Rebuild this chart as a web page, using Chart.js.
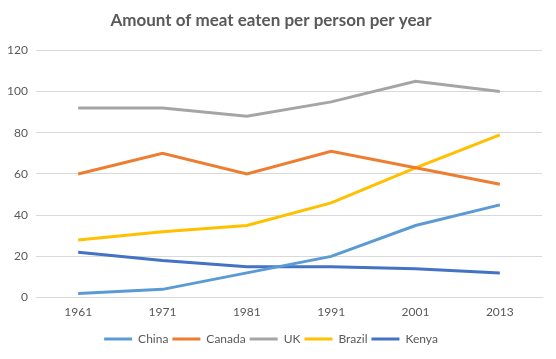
<!DOCTYPE html>
<html>
<head>
<meta charset="utf-8">
<script src="https://cdn.jsdelivr.net/npm/chart.js@4/dist/chart.umd.min.js"></script>
<style>
html,body{margin:0;padding:0;background:#fff;}
#wrap{width:556px;height:359px;position:relative;}
</style>
</head>
<body>
<div id="wrap"><canvas id="c" width="556" height="359"></canvas></div>
<script>
const years = ["1961","1971","1981","1991","2001","2013"];
const china  = [2, 4, 12, 20, 35, 45];
const canada = [60, 70, 60, 71, 63, 55];
const uk     = [92, 92, 88, 95, 105, 100];
const brazil = [28, 32, 35, 46, 63, 79];
const kenya  = [22, 18, 15, 15, 14, 12];
const yTicks = [0, 20, 40, 60, 80, 100, 120];

const FONT = "Lato, 'Open Sans', sans-serif";
const TXT = "#595959";
function ds(label, data, color){
  return {label, data, borderColor: color, backgroundColor: color, borderWidth: 3,
    pointRadius: 0, pointHoverRadius: 0, tension: 0, fill: false};
}
new Chart(document.getElementById('c'), {
  type: 'line',
  data: {
    labels: years,
    datasets: [
      ds("China", china, "#5b9bd5"),
      ds("Canada", canada, "#ed7d31"),
      ds("UK", uk, "#a5a5a5"),
      ds("Brazil", brazil, "#ffc000"),
      ds("Kenya", kenya, "#4472c4")
    ]
  },
  options: {
    responsive: false,
    animation: false,
    devicePixelRatio: 1,
    layout: {padding: {left: 0, right: 14, top: 8, bottom: 4}},
    plugins: {
      title: {display: true, text: "Amount of meat eaten per person per year",
        color: TXT, font: {family: FONT, size: 17, weight: 'bold'}, padding: {top: 2, bottom: 20}},
      legend: {position: 'bottom',
        labels: {usePointStyle: true, pointStyle: 'line', pointStyleWidth: 28, boxHeight: 3,
          color: TXT, font: {family: FONT, size: 12}, padding: 4}},
      tooltip: {enabled: false}
    },
    scales: {
      x: {
        offset: true,
        grid: {display: false, drawTicks: false},
        border: {display: true, color: "#d9d9d9"},
        afterFit: (ax) => { ax.height += 3; },
        ticks: {color: TXT, font: {family: FONT, size: 12}, padding: 7}
      },
      y: {
        min: 0, max: 120,
        afterBuildTicks: (ax) => { ax.ticks = yTicks.map(v => ({value: v})); },
        afterFit: (ax) => { ax.width = 36; },
        grid: {color: "#d9d9d9", drawTicks: false},
        border: {display: false},
        ticks: {color: TXT, font: {family: FONT, size: 12}, padding: 8}
      }
    }
  }
});
</script>
</body>
</html>
